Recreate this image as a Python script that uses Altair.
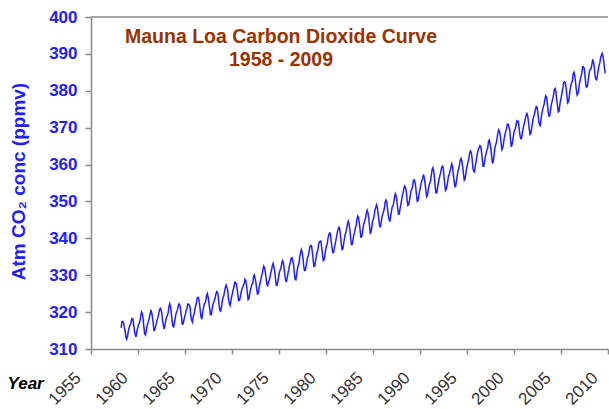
import altair as alt
import pandas as pd

# Monthly mean CO2 at Mauna Loa (ppmv), grouped by decade
co2_1958_1959 = [  # Mar 1958 - Dec 1959
    315.71, 317.45, 317.50, 317.10, 315.86, 314.93, 313.20, 312.66, 313.33, 314.67,
    315.62, 316.38, 316.71, 317.72, 318.29, 318.15, 316.54, 314.80, 313.84, 313.26, 314.80, 315.58,
]
co2_1960s = [
    316.43, 316.97, 317.58, 319.02, 320.03, 319.59, 318.18, 315.91, 314.16, 313.83, 315.00, 316.19,
    316.93, 317.70, 318.54, 319.48, 320.58, 319.77, 318.57, 316.79, 314.80, 315.38, 316.10, 317.01,
    317.94, 318.56, 319.68, 320.63, 321.01, 320.55, 319.58, 317.40, 316.26, 315.42, 316.69, 317.69,
    318.74, 319.08, 319.86, 321.39, 322.25, 321.47, 319.74, 317.77, 316.21, 315.99, 317.12, 318.31,
    319.57, 320.07, 320.73, 321.77, 322.25, 321.89, 320.44, 318.70, 316.70, 316.79, 317.79, 318.71,
    319.44, 320.44, 320.89, 322.13, 322.16, 321.87, 321.39, 318.81, 317.81, 317.30, 318.87, 319.42,
    320.62, 321.59, 322.39, 323.87, 324.01, 323.75, 322.39, 320.37, 318.64, 318.10, 319.79, 321.08,
    322.07, 322.50, 323.04, 324.42, 325.00, 324.09, 322.55, 320.92, 319.31, 319.31, 320.72, 321.96,
    322.57, 323.15, 323.89, 325.02, 325.57, 325.36, 324.14, 322.03, 320.41, 320.25, 321.31, 322.84,
    324.00, 324.42, 325.64, 326.66, 327.34, 326.76, 325.88, 323.67, 322.38, 321.78, 322.85, 324.11,
]
co2_1970s = [
    325.03, 325.99, 326.87, 328.13, 328.07, 327.66, 326.35, 324.69, 323.10, 323.16, 323.98, 325.13,
    326.17, 326.68, 327.18, 327.78, 328.92, 328.57, 327.34, 325.46, 323.36, 323.57, 324.80, 326.01,
    326.77, 327.63, 327.75, 329.72, 330.07, 329.09, 328.05, 326.32, 324.93, 325.06, 326.50, 327.55,
    328.54, 329.56, 330.30, 331.50, 332.48, 332.07, 330.87, 329.31, 327.51, 327.18, 328.16, 328.64,
    329.35, 330.71, 331.48, 332.65, 333.20, 332.16, 331.07, 329.12, 327.32, 327.28, 328.30, 329.58,
    330.73, 331.46, 331.90, 333.17, 333.94, 333.45, 331.97, 329.95, 328.50, 328.34, 329.37, 330.58,
    331.59, 332.75, 333.52, 334.64, 334.77, 334.00, 333.06, 330.68, 328.95, 328.75, 330.15, 331.62,
    332.66, 333.13, 334.95, 336.13, 336.93, 336.17, 334.88, 332.56, 331.29, 331.27, 332.41, 333.60,
    334.95, 335.25, 336.66, 337.69, 338.03, 338.01, 336.41, 334.41, 332.37, 332.41, 333.75, 334.90,
    336.14, 336.69, 338.27, 338.96, 339.21, 339.26, 337.54, 335.75, 333.98, 334.19, 335.31, 336.81,
]
co2_1980s = [
    337.90, 338.34, 340.01, 340.93, 341.48, 341.33, 339.40, 337.70, 336.19, 336.15, 337.27, 338.32,
    339.29, 340.55, 341.61, 342.53, 343.03, 342.54, 340.78, 338.44, 336.95, 337.08, 338.58, 339.88,
    340.96, 341.73, 342.81, 343.97, 344.63, 343.79, 342.32, 340.09, 338.28, 338.29, 339.60, 340.90,
    341.68, 342.90, 343.33, 345.25, 346.03, 345.63, 344.19, 342.27, 340.35, 340.38, 341.59, 343.05,
    344.10, 344.79, 345.52, 346.84, 347.63, 346.98, 345.53, 343.55, 341.40, 341.67, 343.10, 344.70,
    345.21, 346.16, 347.74, 348.34, 349.06, 348.38, 346.72, 345.02, 343.27, 343.13, 344.49, 345.88,
    346.56, 347.28, 348.01, 349.77, 350.38, 349.93, 348.16, 346.08, 345.22, 344.51, 345.93, 347.22,
    348.52, 348.73, 349.73, 351.31, 352.09, 351.53, 350.11, 348.08, 346.52, 346.59, 347.96, 349.16,
    350.39, 351.64, 352.40, 353.69, 354.21, 353.72, 352.69, 350.40, 348.92, 349.13, 350.20, 351.41,
    352.91, 353.27, 353.96, 355.64, 355.86, 355.37, 353.99, 351.81, 350.05, 350.25, 351.49, 352.85,
]
co2_1990s = [
    353.80, 355.04, 355.73, 356.32, 357.32, 356.34, 354.84, 353.01, 351.31, 351.62, 353.07, 354.33,
    354.84, 355.73, 357.23, 358.66, 359.13, 358.13, 356.19, 353.85, 352.25, 352.35, 353.81, 355.12,
    356.25, 357.11, 357.86, 359.09, 359.59, 359.33, 357.01, 354.94, 352.96, 353.32, 354.32, 355.57,
    357.00, 357.31, 358.47, 359.27, 360.19, 359.52, 357.33, 355.64, 354.03, 354.12, 355.41, 356.91,
    358.24, 358.92, 359.99, 361.23, 361.65, 360.81, 359.38, 357.46, 355.73, 356.08, 357.53, 358.98,
    359.92, 360.86, 361.83, 363.30, 363.69, 363.19, 361.64, 359.12, 358.17, 357.99, 359.45, 360.68,
    362.07, 363.24, 364.17, 364.57, 365.13, 364.92, 363.55, 361.38, 359.54, 359.58, 360.89, 362.24,
    363.09, 364.03, 364.51, 366.35, 366.64, 365.59, 364.31, 362.25, 360.29, 360.82, 362.49, 364.38,
    365.26, 365.98, 367.24, 368.66, 369.42, 368.99, 367.82, 365.95, 364.02, 364.40, 365.52, 367.13,
    368.18, 369.07, 369.68, 370.99, 370.96, 370.30, 369.45, 366.90, 364.81, 365.37, 366.72, 368.10,
]
co2_2000s = [  # Jan 2000 - Sep 2009
    369.29, 369.54, 370.60, 371.82, 371.58, 371.70, 369.86, 368.13, 367.00, 367.03, 368.37, 369.67,
    370.59, 371.51, 372.43, 373.37, 373.85, 373.21, 371.51, 369.61, 368.18, 368.45, 369.76, 371.24,
    372.53, 373.20, 374.12, 375.02, 375.76, 375.52, 374.01, 371.85, 370.75, 370.55, 372.25, 373.79,
    374.88, 375.64, 376.45, 377.73, 378.60, 378.28, 376.70, 374.38, 373.17, 373.15, 374.66, 375.99,
    377.00, 377.87, 378.88, 380.35, 380.62, 379.69, 377.47, 376.01, 374.25, 374.46, 376.16, 377.51,
    378.46, 379.73, 380.77, 382.29, 382.45, 382.21, 380.74, 378.74, 376.70, 377.00, 378.35, 380.11,
    381.38, 382.19, 382.67, 384.61, 385.03, 384.05, 382.46, 380.41, 378.85, 379.13, 380.15, 381.82,
    382.89, 383.90, 384.58, 386.50, 386.56, 386.10, 384.50, 381.99, 380.96, 381.12, 382.45, 383.95,
    385.52, 385.82, 386.03, 387.21, 388.54, 387.76, 386.36, 384.09, 383.18, 382.99, 384.19, 385.56,
    386.94, 387.48, 388.82, 389.55, 390.14, 389.48, 388.03, 386.11, 384.74,
]

year_ticks = list(range(1955, 2011, 5))
ppm_ticks = list(range(310, 401, 10))
title_lines = ["Mauna Loa Carbon Dioxide Curve", "1958 - 2009"]


def monthly(start_year, start_month, values):
    """Turn a run of monthly values into (decimal year, ppmv) rows, mid-month."""
    rows = []
    y, m = start_year, start_month
    for v in values:
        rows.append({"date": y + (m - 0.5) / 12.0, "co2": v})
        m += 1
        if m > 12:
            m, y = 1, y + 1
    return rows


df = pd.DataFrame(
    monthly(1958, 3, co2_1958_1959)
    + monthly(1960, 1, co2_1960s)
    + monthly(1970, 1, co2_1970s)
    + monthly(1980, 1, co2_1980s)
    + monthly(1990, 1, co2_1990s)
    + monthly(2000, 1, co2_2000s)
)

FONT = "Liberation Sans"
GREY = "#8a8a8a"
BLUE = "#2020ff"
W, H = 517, 332

x_scale = alt.Scale(domain=[1955, 2010], nice=False, zero=False)
y_scale = alt.Scale(domain=[310, 400], nice=False, zero=False)

x_axis = alt.Axis(
    values=year_ticks, format="d", grid=False,
    title="Year", titleFont=FONT, titleFontSize=17, titleFontWeight="bold",
    titleFontStyle="italic", titleColor="#000000", titleAngle=0,
    titleAlign="left", titleBaseline="alphabetic", titleX=-84, titleY=39,
    labelFont=FONT, labelFontSize=17, labelColor="#333333",
    labelAngle=-45, labelAlign="right", labelBaseline="middle",
    labelPadding=21, labelOffset=-13, labelOverlap=False, labelFlush=False,
    tickSize=5, tickColor=GREY, tickWidth=1.5,
    domainColor=GREY, domainWidth=1.5,
)
y_axis = alt.Axis(
    values=ppm_ticks, format="d", grid=False,
    title="Atm CO\u2082 conc (ppmv)", titleFont=FONT, titleFontSize=19,
    titleFontWeight="bold", titleColor=BLUE, titleAngle=-90,
    titleAlign="center", titleBaseline="alphabetic", titleX=-67, titleY=164,
    labelFont=FONT, labelFontSize=17, labelFontWeight="bold", labelColor=BLUE,
    labelPadding=8, labelOverlap=False, labelFlush=False,
    tickSize=6, tickColor=GREY, tickWidth=1.5,
    domainColor=GREY, domainWidth=1.5,
)

curve = alt.Chart(df).mark_line(color=BLUE, strokeWidth=1.5, clip=True).encode(
    x=alt.X("date:Q", scale=x_scale, axis=x_axis),
    y=alt.Y("co2:Q", scale=y_scale, axis=y_axis),
)

# frame line along the top of the plot
top_edge = alt.Chart(pd.DataFrame({"co2": [400]})).mark_rule(
    color=GREY, strokeWidth=1.5
).encode(y=alt.Y("co2:Q", scale=y_scale, axis=y_axis))

heading = alt.Chart(pd.DataFrame({"k": [0]})).mark_text(
    text=title_lines, font=FONT, fontSize=19.5, fontWeight="bold",
    color="#993300", align="center", baseline="alphabetic", lineHeight=23,
).encode(x=alt.value(190), y=alt.value(26))

chart = (
    alt.layer(curve, top_edge, heading)
    .properties(
        width=W, height=H,
        padding={"left": 91, "top": 17, "right": 1, "bottom": 60},
        autosize=alt.AutoSizeParams(type="none"),
        background="white",
    )
    .configure_view(stroke=None)
)

chart.save("out.html", embed_options={"renderer": "svg", "actions": False})
